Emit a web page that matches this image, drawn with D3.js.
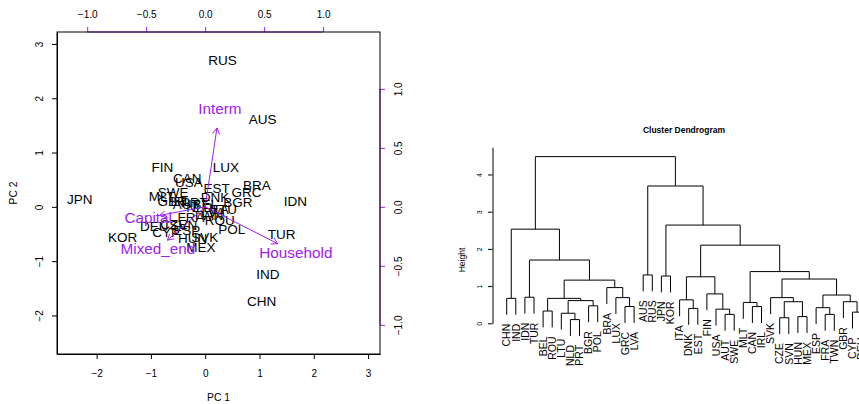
<!DOCTYPE html>
<html lang="en">
<head>
<meta charset="utf-8">
<title>PCA biplot and cluster dendrogram</title>
<style>
body { margin: 0; background: #fff; }
svg { font-family: "Liberation Sans", Arial, Helvetica, sans-serif; display: block; }
.axis path, .axis line { stroke: #000; }
.axis text { fill: #000; }
.load path, .load line { stroke: #A020F0; }
</style>
</head>
<body>
<svg width="859" height="404"></svg>
<script src="https://cdn.jsdelivr.net/npm/d3@7"></script>
<script>

// PCA scores (PC1, PC2)
const countries = ["AUS","AUT","BEL","BGR","BRA","CAN","CHN","CYP","CZE","DEU",
                   "DNK","ESP","EST","FIN","FRA","GBR","GRC","HUN","IDN","IND",
                   "IRL","ITA","JPN","KOR","LTU","LUX","LVA","MEX","MLT","NLD",
                   "POL","PRT","ROU","RUS","SVK","SVN","SWE","TUR","TWN","USA"];
const pc1 = [1.06,-0.35,0.00,0.60,0.95,-0.33,1.04,-0.72,-0.58,-0.94,
             0.18,-0.34,0.21,-0.79,-0.26,-0.61,0.76,-0.23,1.66,1.155,
             -0.45,0.25,-2.31,-1.52,0.36,0.38,0.15,-0.08,-0.80,-0.10,
             0.49,-0.20,0.27,0.32,-0.01,-0.40,-0.59,1.41,0.05,-0.30];
const pc2 = [1.62,0.05,0.05,0.09,0.40,0.52,-1.73,-0.46,-0.32,-0.355,
             0.18,-0.43,0.34,0.73,-0.19,0.10,0.27,-0.58,0.10,-1.24,
             0.10,-0.05,0.14,-0.56,-0.05,0.73,-0.10,-0.75,0.19,0.00,
             -0.41,0.08,-0.245,2.70,-0.56,-0.33,0.27,-0.51,-0.15,0.45];

// loadings
const variables = ["Interm","Household","Capital","Mixed_end"];
const load1 = [0.125, 0.769, -0.483, -0.40];
const load2 = [0.836, -0.39, -0.09, -0.353];

const pcTicks = [-2, -1, 0, 1, 2, 3];
const loadTicks = [-1.0, -0.5, 0.0, 0.5, 1.0];

// dendrogram: leaf order and merges [left, right, height]; numbers refer to earlier merges (1-based)
const leafOrder = ["CHN","IND","IDN","TUR","BEL","ROU","LTU","NLD","PRT","BGR",
                   "POL","BRA","LUX","GRC","LVA","AUS","RUS","JPN","KOR","ITA",
                   "DNK","EST","FIN","USA","AUT","SWE","MLT","CAN","IRL","SVK",
                   "CZE","SVN","HUN","MEX","ESP","FRA","TWN","GBR","CYP","DEU"];
const merges = [
  ["NLD","PRT",0.10], ["LTU",1,0.27], ["BEL","ROU",0.33], ["BGR","POL",0.47],
  [2,4,0.61], [3,5,0.67], ["GRC","LVA",0.45], ["LUX",7,0.69], ["BRA",8,0.96],
  [6,9,1.16], ["IDN","TUR",0.70], [11,10,1.70], ["CHN","IND",0.67], [13,12,2.53],
  ["AUS","RUS",1.30], ["JPN","KOR",1.27], ["DNK","EST",0.40], ["ITA",17,0.63],
  ["AUT","SWE",0.24], ["USA",19,0.38], ["FIN",20,0.79], [18,21,1.25],
  ["CAN","IRL",0.45], ["MLT",23,0.56], ["CZE","SVN",0.15], ["HUN","MEX",0.18],
  [25,26,0.58], ["SVK",27,0.69], ["FRA","TWN",0.24], ["ESP",29,0.42],
  ["CYP","DEU",0.30], ["GBR",31,0.58], [30,32,0.76], [28,33,1.19], [24,34,1.39],
  [22,35,2.10], [16,36,2.64], [15,37,3.69], [14,38,4.48]
];
const heightTicks = [0, 1, 2, 3, 4];

const svg = d3.select("svg");
svg.append("rect").attr("width", 859).attr("height", 404).attr("fill", "#fff");
const purple = "#A020F0";

// ---------- biplot ----------
const x = d3.scaleLinear().domain([-2.73, 3.22]).range([57, 380]);
const y = d3.scaleLinear().domain([-2.71, 3.22]).range([354, 32]);
const lx = d3.scaleLinear().domain([-1.256, 1.482]).range([57, 380]);
const ly = d3.scaleLinear().domain([-1.247, 1.482]).range([354, 32]);

function rotLabels(g, off) {
  g.selectAll(".tick text")
    .attr("x", null).attr("y", null).attr("dy", "0.36em")
    .attr("text-anchor", "middle")
    .attr("transform", "translate(" + off + ",0) rotate(-90)");
}

svg.append("g").attr("class", "axis").attr("transform", "translate(0,354)")
  .call(d3.axisBottom(x).tickValues(pcTicks).tickSize(5).tickSizeOuter(0).tickFormat(d3.format("d")))
  .call(g => g.selectAll(".tick text").attr("y", 19.3).attr("dy", "0.36em").style("font-size", "10px"));

svg.append("g").attr("class", "axis").attr("transform", "translate(57,0)")
  .call(d3.axisLeft(y).tickValues(pcTicks).tickSize(5).tickSizeOuter(0).tickFormat(d3.format("d")))
  .call(g => { g.selectAll(".tick text").style("font-size", "10px"); rotLabels(g, -18); });

svg.append("g").attr("class", "axis load").attr("transform", "translate(0,32)")
  .call(d3.axisTop(lx).tickValues(loadTicks).tickSize(5).tickSizeOuter(0).tickFormat(d3.format(".1f")))
  .call(g => { g.select(".domain").attr("d", "M" + lx(-1) + ",0H" + lx(1));
               g.selectAll(".tick text").attr("y", -18).attr("dy", "0.36em").style("font-size", "10px"); });

svg.append("g").attr("class", "axis load").attr("transform", "translate(380,0)")
  .call(d3.axisRight(ly).tickValues(loadTicks).tickSize(5).tickSizeOuter(0).tickFormat(d3.format(".1f")))
  .call(g => { g.select(".domain").attr("d", "M0," + ly(-1) + "V" + ly(1));
               g.selectAll(".tick text").style("font-size", "10px"); rotLabels(g, 18.3); });

svg.append("rect").attr("x", 57).attr("y", 32).attr("width", 323).attr("height", 322)
  .attr("fill", "none").attr("stroke", "#000");

svg.append("text").attr("x", 218.5).attr("y", 397.5).attr("dy", "0.36em")
  .attr("text-anchor", "middle").style("font-size", "10.3px").text("PC 1");
svg.append("text").attr("transform", "translate(13,193) rotate(-90)").attr("dy", "0.36em")
  .attr("text-anchor", "middle").style("font-size", "10.3px").text("PC 2");

svg.append("g").selectAll("text").data(countries).join("text")
  .attr("x", (d, i) => x(pc1[i])).attr("y", (d, i) => y(pc2[i]))
  .attr("dy", "0.36em").attr("text-anchor", "middle")
  .style("font-size", "13.5px").attr("fill", "#000").text(d => d);

svg.append("g").selectAll("text").data(variables).join("text")
  .attr("x", (d, i) => lx(load1[i])).attr("y", (d, i) => ly(load2[i]))
  .attr("dy", "0.36em").attr("text-anchor", "middle")
  .style("font-size", "15.3px").attr("fill", purple).text(d => d);

// arrows to 0.8 * loading, like R's biplot
const arrows = svg.append("g").attr("stroke", purple).attr("fill", "none").attr("stroke-width", 1);
variables.forEach((v, i) => {
  const x0 = lx(0), y0 = ly(0), x1 = lx(0.8 * load1[i]), y1 = ly(0.8 * load2[i]);
  const a = Math.atan2(y1 - y0, x1 - x0), len = 7, sp = Math.PI / 6;
  arrows.append("path").attr("d",
    "M" + x0 + "," + y0 + "L" + x1 + "," + y1 +
    "M" + (x1 - len * Math.cos(a - sp)) + "," + (y1 - len * Math.sin(a - sp)) +
    "L" + x1 + "," + y1 +
    "L" + (x1 - len * Math.cos(a + sp)) + "," + (y1 - len * Math.sin(a + sp)));
});

// ---------- dendrogram ----------
const dx = d3.scaleLinear().domain([1, 40]).range([506.7, 861.6]);
const dy = d3.scaleLinear().domain([0, 4.73]).range([323.3, 147.3]);
const hang = 0.44;

const leafIndex = new Map(leafOrder.map((d, i) => [d, i + 1]));
const nodes = [];
const leafBottom = new Map();
merges.forEach(([a, b, h]) => {
  const ends = [a, b].map(r => {
    if (typeof r === "number") return { x: nodes[r - 1].x, h: nodes[r - 1].h };
    leafBottom.set(r, h - hang);
    return { x: leafIndex.get(r), h: h - hang };
  });
  nodes.push({ x: (ends[0].x + ends[1].x) / 2, h: h, ends: ends });
});

svg.append("g").attr("fill", "none").attr("stroke", "#000").attr("stroke-width", 1)
  .selectAll("path").data(nodes).join("path")
  .attr("d", n => "M" + dx(n.ends[0].x) + "," + dy(n.ends[0].h) +
                  "V" + dy(n.h) + "H" + dx(n.ends[1].x) + "V" + dy(n.ends[1].h));

svg.append("g").selectAll("text").data(leafOrder).join("text")
  .attr("transform", d => "translate(" + dx(leafIndex.get(d)) + "," + (dy(leafBottom.get(d)) + 9) + ") rotate(-90)")
  .attr("dy", "0.36em").attr("text-anchor", "end")
  .style("font-size", "10.5px").text(d => d);

svg.append("g").attr("class", "axis").attr("transform", "translate(492.5,0)")
  .call(d3.axisLeft(dy).tickValues(heightTicks).tickSize(4.5).tickSizeOuter(0).tickFormat(d3.format("d")))
  .call(g => { g.selectAll(".tick text").style("font-size", "7px"); rotLabels(g, -13.2); });

svg.append("text").attr("x", 684).attr("y", 130).attr("dy", "0.36em")
  .attr("text-anchor", "middle").style("font-size", "8.5px").style("font-weight", "bold")
  .text("Cluster Dendrogram");
svg.append("text").attr("transform", "translate(461.7,260) rotate(-90)").attr("dy", "0.36em")
  .attr("text-anchor", "middle").style("font-size", "8.5px").text("Height");

</script>
</body>
</html>
